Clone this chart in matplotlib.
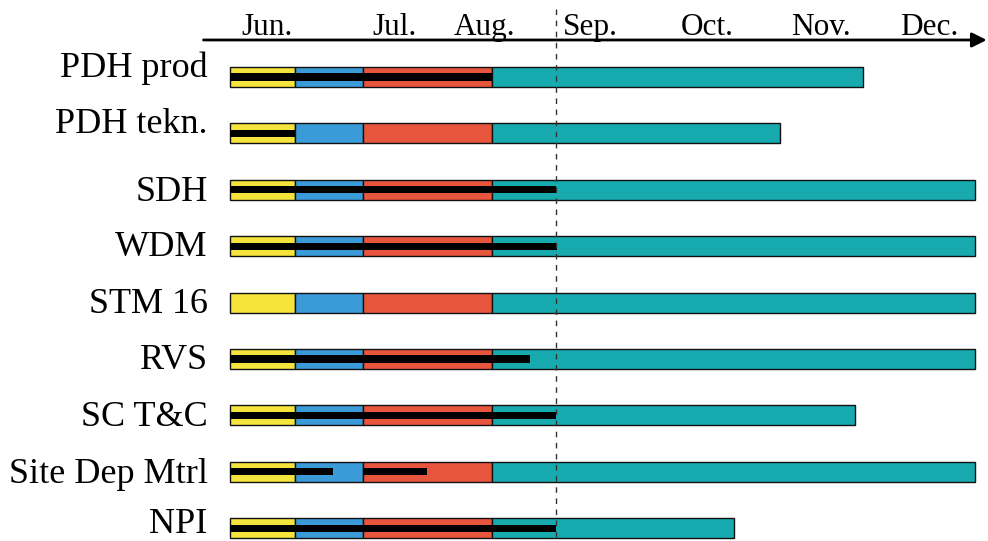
import matplotlib.pyplot as plt

# time axis in weeks from start of June
tasks = ["PDH prod", "PDH tekn.", "SDH", "WDM", "STM 16", "RVS",
         "SC T&C", "Site Dep Mtrl", "NPI"]
phase_starts = [0.0, 2.45, 5.0, 9.9]          # yellow, blue, red, teal
phase_colors = ["#f4e43c", "#3b9ad8", "#e8553d", "#17abb0"]
task_ends = [23.9, 20.75, 28.1, 28.1, 28.1, 28.1, 23.6, 28.1, 19.0]
progress = [[(0, 9.9)], [(0, 2.45)], [(0, 12.3)], [(0, 12.35)], [],
            [(0, 11.3)], [(0, 12.3)], [(0, 3.9), (5.0, 7.45)], [(0, 12.3)]]
months = ["Jun.", "Jul.", "Aug.", "Sep.", "Oct.", "Nov.", "Dec."]
month_pos = [1.4, 6.2, 9.6, 13.6, 18.0, 22.3, 26.4]
today = 12.3

# label placement tweaks (baseline offset in row units) - first two sit higher
label_dy = [0.0, 0.0, 0.19, 0.18, 0.19, 0.18, 0.18, 0.19, 0.08]

plt.rcParams['font.family'] = ['Liberation Serif', 'DejaVu Serif']

fig = plt.figure(figsize=(9.88, 5.41), dpi=100)
ax = fig.add_axes([0, 0, 1, 1])
ax.set_xlim(-8.68, 28.6)
ax.set_ylim(8.227, -1.365)
ax.axis('off')

bar_h = 0.355
for i, name in enumerate(tasks):
    bounds = phase_starts + [task_ends[i]]
    for j in range(4):
        ax.barh(i, bounds[j + 1] - bounds[j], left=bounds[j], height=bar_h,
                color=phase_colors[j], edgecolor='#111111', linewidth=1.0)
    for s, e in progress[i]:
        ax.barh(i, e - s, left=s, height=0.125, color='black', linewidth=0)
    ax.text(-0.85, i + label_dy[i], name, ha='right', va='baseline',
            fontsize=26)

# time axis with arrow on top
ax.annotate("", xy=(28.55, -0.656), xytext=(-1.0, -0.656),
            arrowprops=dict(arrowstyle='-|>', color='black', lw=2,
                            mutation_scale=22, shrinkA=0, shrinkB=0))
for m, x in zip(months, month_pos):
    ax.text(x, -0.745, m, ha='center', va='baseline', fontsize=22.5)

ax.plot([today, today], [-1.2, 8.3], color='#333333', lw=1, ls=(0, (4, 4)),
        zorder=5)

fig.savefig("out.png", dpi=100)
